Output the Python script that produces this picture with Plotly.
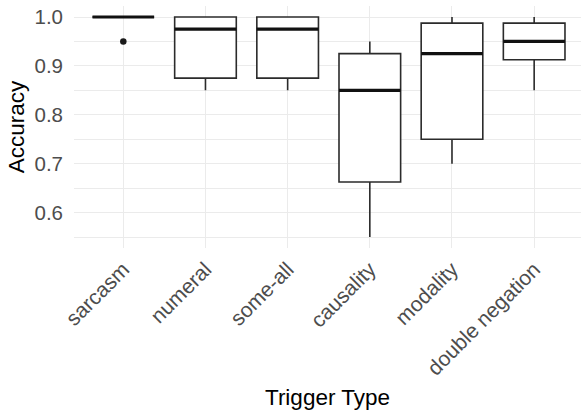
import plotly.graph_objects as go

categories = ["sarcasm", "numeral", "some-all", "causality", "modality", "double negation"]
q1 = [1.0, 0.875, 0.875, 0.6625, 0.75, 0.9125]
median = [1.0, 0.975, 0.975, 0.85, 0.925, 0.95]
q3 = [1.0, 1.0, 1.0, 0.925, 0.9875, 0.9875]
lower_whisker = [1.0, 0.85, 0.85, 0.55, 0.70, 0.85]
upper_whisker = [1.0, 1.0, 1.0, 0.95, 1.0, 1.0]
outlier_cat = ["sarcasm"]
outlier_val = [0.95]
y_ticks = [0.6, 0.7, 0.8, 0.9, 1.0]

FONT = "Liberation Sans, Arial, sans-serif"
LINE = "#2b2b2b"
GRID = "#EBEBEB"

fig = go.Figure()
fig.add_trace(go.Box(
    x=categories, q1=q1, median=median, q3=q3,
    lowerfence=lower_whisker, upperfence=upper_whisker,
    width=0.75,
    fillcolor="white", line=dict(color=LINE, width=1.6),
    whiskerwidth=0, boxpoints=False, showlegend=False, hoverinfo="skip",
))
# thicker median bar (ggplot fatten)
fig.add_trace(go.Box(
    x=categories, q1=median, median=median, q3=median,
    lowerfence=median, upperfence=median,
    width=0.75,
    fillcolor="rgba(0,0,0,0)", line=dict(color="#111111", width=3.2),
    whiskerwidth=0, boxpoints=False, showlegend=False, hoverinfo="skip",
))
fig.add_trace(go.Scatter(
    x=outlier_cat, y=outlier_val, mode="markers",
    marker=dict(color="#1a1a1a", size=6.5), showlegend=False, hoverinfo="skip",
))

fig.update_layout(
    width=581, height=412,
    margin=dict(l=74, r=0, t=6, b=164),
    paper_bgcolor="white", plot_bgcolor="white",
    boxmode="overlay", boxgap=0.25,
    font=dict(family=FONT, color="black"),
)
fig.update_xaxes(
    type="category", categoryorder="array", categoryarray=categories,
    range=[-0.6, 5.57], automargin=False,
    showgrid=True, gridcolor=GRID, gridwidth=1.1,
    zeroline=False, showline=False, ticks="",
    tickangle=-45, tickfont=dict(size=21, color="#4D4D4D", family=FONT),
    ticklabelstandoff=4,
    title=dict(text="Trigger Type", font=dict(size=22.5, color="black", family=FONT), standoff=10),
)
fig.update_yaxes(
    range=[0.5275, 1.0225], automargin=False,
    tickvals=y_ticks, ticktext=[f"{v:.1f}" for v in y_ticks],
    showgrid=True, gridcolor=GRID, gridwidth=1.1,
    minor=dict(dtick=0.05, tick0=0.55, showgrid=True, gridcolor=GRID, gridwidth=0.6),
    zeroline=False, showline=False, ticks="",
    tickfont=dict(size=20.5, color="#4D4D4D", family=FONT),
    ticklabelstandoff=10,
    title=dict(text="Accuracy", font=dict(size=22.5, color="black", family=FONT), standoff=3),
)

fig.write_html(
    "out.html",
    config={"displayModeBar": False},
    post_script="document.body.style.margin='0';document.body.style.overflow='hidden';",
)
